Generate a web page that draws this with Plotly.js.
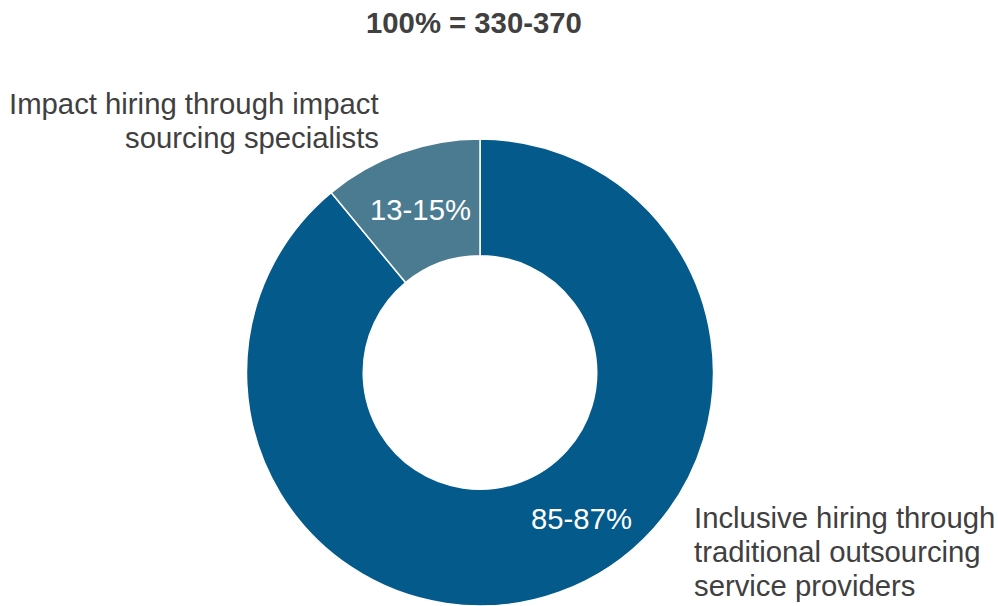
<!DOCTYPE html>
<html>
<head>
<meta charset="utf-8">
<script src="https://cdn.plot.ly/plotly-3.0.1.min.js"></script>
<style>html,body{margin:0;padding:0;background:#fff;}#chart{width:998px;height:606px;}</style>
</head>
<body>
<div id="chart"></div>
<script>
// Data
var categories = ["Inclusive hiring through traditional outsourcing service providers",
                  "Impact hiring through impact sourcing specialists"];
var shares = [89, 11];            // drawn slice proportions (%)
var shareLabels = ["85-87%", "13-15%"];
var totalLabel = "100% = 330-370";
var inclusiveLines = ["Inclusive hiring through", "traditional outsourcing", "service providers"];
var impactLines = ["Impact hiring through impact", "sourcing specialists"];
var colors = ["#035A8B", "#4B7B90"];

var W = 998, H = 606;
function px(x){ return x / W; }
function py(y){ return 1 - y / H; }
var font = "Liberation Sans, Arial, sans-serif";
var FS = 29.3, LH = 34;

var trace = {
  type: "pie",
  labels: categories,
  values: shares,
  sort: false,
  direction: "clockwise",
  rotation: 0,
  hole: 0.5,
  textinfo: "none",
  hoverinfo: "label+value",
  marker: {colors: colors, line: {color: "#ffffff", width: 1.5}},
  domain: {x: [px(246), px(714)], y: [0, py(139)]},
  showlegend: false
};

var ann = [
  {text: "<b>" + totalLabel + "</b>", x: px(473.5), y: py(23), xref: "paper", yref: "paper",
   xanchor: "center", yanchor: "middle", showarrow: false, font: {size: FS, color: "#404040", family: font}},
  {text: shareLabels[1], x: px(420), y: py(210), xref: "paper", yref: "paper",
   xanchor: "center", yanchor: "middle", showarrow: false, font: {size: FS, color: "#ffffff", family: font}},
  {text: shareLabels[0], x: px(581), y: py(518), xref: "paper", yref: "paper",
   xanchor: "center", yanchor: "middle", showarrow: false, font: {size: FS, color: "#ffffff", family: font}}
];
impactLines.forEach(function(t, i){
  ann.push({text: t, x: px(381), y: py(103 + i*LH), xref: "paper", yref: "paper",
    xanchor: "right", yanchor: "middle", showarrow: false, font: {size: FS, color: "#404040", family: font}});
});
inclusiveLines.forEach(function(t, i){
  ann.push({text: t, x: px(692), y: py(517 + i*LH), xref: "paper", yref: "paper",
    xanchor: "left", yanchor: "middle", showarrow: false, font: {size: FS, color: "#404040", family: font}});
});

var layout = {
  width: W, height: H,
  margin: {l: 0, r: 0, t: 0, b: 0},
  paper_bgcolor: "#ffffff",
  font: {family: font, color: "#404040"},
  annotations: ann
};

Plotly.newPlot("chart", [trace], layout, {displayModeBar: false, staticPlot: true});
</script>
</body>
</html>
